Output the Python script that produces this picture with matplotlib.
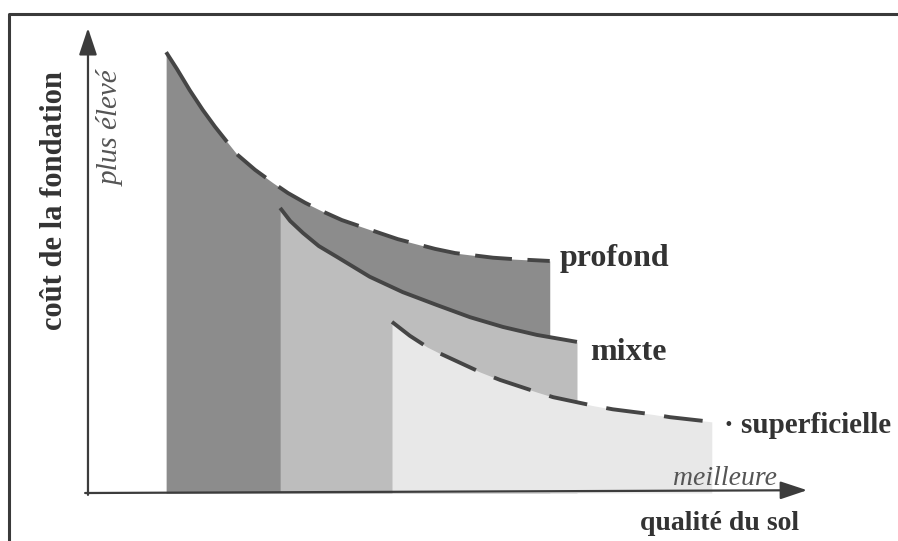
import matplotlib.pyplot as plt
from matplotlib.patches import ArrowStyle

# courbes (x = qualité du sol, y = coût), unités arbitraires 0-10
profond_x = [1.09, 1.24, 1.42, 1.60, 1.77, 1.94, 2.08, 2.33, 2.58, 2.79, 3.03,
             3.28, 3.54, 4.07, 4.32, 4.84, 5.12, 5.65, 5.93, 6.44]
profond_y = [9.48, 9.12, 8.66, 8.24, 7.88, 7.55, 7.28, 6.95, 6.67, 6.45, 6.24,
             6.05, 5.87, 5.59, 5.46, 5.25, 5.16, 5.06, 5.03, 4.99]
profond_solid = 6  # premiers points en trait plein

mixte_x = [2.68, 2.82, 3.00, 3.22, 3.47, 3.93, 4.39, 4.87, 5.33, 5.79, 6.26,
           6.82]
mixte_y = [6.13, 5.85, 5.59, 5.31, 5.08, 4.65, 4.32, 4.04, 3.78, 3.57, 3.40,
           3.25]

superf_x = [4.24, 4.49, 4.73, 4.91, 5.47, 5.75, 6.26, 6.49, 7.04, 7.32, 7.88,
            8.12, 8.70]
superf_y = [3.68, 3.38, 3.14, 3.00, 2.60, 2.43, 2.17, 2.06, 1.88, 1.80, 1.69,
            1.63, 1.53]

labels = ['profond', 'mixte', '· superficielle']
label_pos = [(6.58, 4.88), (7.00, 2.86), (8.87, 1.29)]
label_size = [23, 23, 21]

line_col = '#454545'
fill_cols = ['#8c8c8c', '#bdbdbd', '#e8e8e8']
serif = 'Liberation Serif'

fig = plt.figure(figsize=(8.98, 5.41), dpi=100)
ax = fig.add_axes([0, 0, 1, 1])
ax.set_xlim(-1.227, 11.297)
ax.set_ylim(-1.032, 10.602)
ax.axis('off')

# zones grisées, superposées
ax.fill_between(profond_x, profond_y, 0, color=fill_cols[0], lw=0)
ax.fill_between(mixte_x, mixte_y, 0, color=fill_cols[1], lw=0)
ax.fill_between(superf_x, superf_y, 0, color=fill_cols[2], lw=0)

# courbes
ax.plot(profond_x[:profond_solid], profond_y[:profond_solid], color=line_col,
        lw=2.8, solid_capstyle='butt', solid_joinstyle='round')
ax.plot(profond_x[profond_solid:], profond_y[profond_solid:], color=line_col,
        lw=2.8, dashes=(9.5, 4), dash_capstyle='butt')
ax.plot(mixte_x, mixte_y, color=line_col, lw=2.8, solid_capstyle='butt',
        solid_joinstyle='round')
ax.plot(superf_x, superf_y, color=line_col, lw=2.8, dashes=(10, 5),
        dash_capstyle='butt')

for txt, (lx, ly), fs in zip(labels, label_pos, label_size):
    ax.text(lx, ly, txt, fontsize=fs, fontweight='bold', family=serif,
            color='#333333', va='baseline', ha='left')

# axes avec flèches
head = ArrowStyle('-|>', head_length=0.75, head_width=0.25)
ax.annotate('', xy=(0, 10.0), xytext=(0, -0.04),
            arrowprops=dict(arrowstyle=head, mutation_scale=22, lw=1.6,
                            color='#3c3c3c', shrinkA=0, shrinkB=0))
ax.annotate('', xy=(10.03, 0.06), xytext=(-0.04, 0),
            arrowprops=dict(arrowstyle=head, mutation_scale=22, lw=1.6,
                            color='#3c3c3c', shrinkA=0, shrinkB=0))

ax.text(-0.46, 6.30, 'coût de la fondation', rotation=90, fontsize=22,
        fontweight='bold', family=serif, color='#333333',
        ha='center', va='center')
ax.text(0.32, 7.85, 'plus élevé', rotation=90, fontsize=21, style='italic',
        family=serif, color='#555555', ha='center', va='center')
ax.text(8.16, 0.17, 'meilleure', fontsize=20, style='italic', family=serif,
        color='#555555', ha='left', va='baseline')
ax.text(7.70, -0.80, 'qualité du sol', fontsize=20, fontweight='bold',
        family=serif, color='#333333', ha='left', va='baseline')

# cadre
ax.plot([-1.10, -1.10, 11.4], [-1.2, 10.30, 10.30], color='#3a3a3a', lw=2.2,
        clip_on=False, solid_capstyle='butt')

fig.savefig('out.png', dpi=100)
